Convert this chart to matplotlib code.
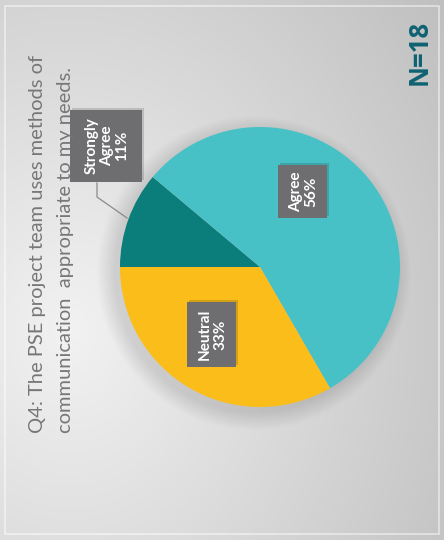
import numpy as np
import matplotlib.pyplot as plt
from matplotlib.patches import Rectangle, Circle

# Survey responses (N = 18)
categories = ["Strongly\nAgree", "Agree", "Neutral"]
counts = [2, 10, 6]
colors = ["#0b7d7a", "#48c1c6", "#fbbd19"]
title_lines = ["Q4: The PSE project team uses methods of",
               "communication  appropriate to my needs."]
n_label = "N=18"

W, H = 444, 540
fig = plt.figure(figsize=(W / 100, H / 100), dpi=100)
ax = fig.add_axes([0, 0, 1, 1])


def Y(y):
    """Convert a top-down pixel row into the axes' bottom-up coordinate."""
    return H - y


# soft grey slide background
yy, xx = np.mgrid[0:H, 0:W]
v = 242 - np.sqrt(((xx - 70) * 0.11) ** 2 + ((yy - 330) * 0.09) ** 2)
bg = np.clip(v, 0, 255) / 255
ax.imshow(np.dstack([bg, bg, bg]), extent=(0, W, 0, H), origin="upper",
          zorder=0, interpolation="bilinear")
ax.add_patch(Rectangle((5, 6), W - 10, H - 12, fill=False, ec="white",
                       lw=1.2, alpha=0.55, zorder=1))

# pie with a soft drop shadow
cx, cy, R = 260, 267, 140
for i in range(14):
    ax.add_patch(Circle((cx - 6, Y(cy + 6)), R + i * 1.3, color="black",
                        alpha=0.007, lw=0, zorder=1))
wedges, _ = ax.pie(counts, colors=colors, startangle=180, counterclock=False,
                   center=(cx, Y(cy)), radius=R,
                   wedgeprops=dict(linewidth=0, zorder=2))
for w in wedges:
    w.set_zorder(2)

total = sum(counts)
labels = [f"{c}\n{round(100 * n / total)}%" for c, n in zip(categories, counts)]

# label boxes: centre x, centre y (pixel rows), width, height
boxes = [(106, 146, 72, 72), (302.5, 191.5, 49, 53), (211.5, 334.5, 49, 65)]
for (bx, by, bw, bh), lab in zip(boxes, labels):
    ax.add_patch(Rectangle((bx - bw / 2 + 2, Y(by) - bh / 2 + 2), bw, bh,
                           color="black", alpha=0.15, lw=0, zorder=3))
    ax.add_patch(Rectangle((bx - bw / 2, Y(by) - bh / 2), bw, bh,
                           color="#6e6e70", lw=0, zorder=4))
    ax.text(bx + 1, Y(by), lab, rotation=90, ha="center", va="center",
            multialignment="center", color="white", fontsize=11,
            weight="bold", family="Lato", linespacing=1.1, zorder=5)

# leader line for the small slice
ax.plot([97, 97, 127], [Y(183), Y(197), Y(218)], color="#8a8a8a", lw=0.9,
        zorder=3)

# title, reading bottom to top
for x, line in zip([43, 71], title_lines):
    ax.text(x, Y(433), line, rotation=90, rotation_mode="anchor",
            ha="left", va="baseline", fontsize=14.5, color="#777777",
            family="Lato", zorder=5)

ax.text(427, Y(85), n_label, rotation=90, rotation_mode="anchor",
        ha="left", va="baseline", fontsize=18.5, weight="bold",
        color="#0d6272", family="Open Sans", zorder=5)

ax.set_xlim(0, W)
ax.set_ylim(0, H)
ax.axis("off")
fig.savefig("out.png", dpi=100)
